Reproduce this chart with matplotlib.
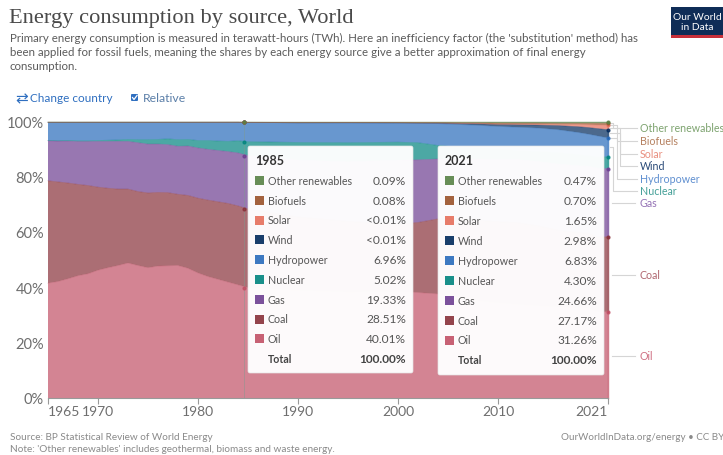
import numpy as np
import matplotlib
matplotlib.use('Agg')
import matplotlib.pyplot as plt
from matplotlib.patches import FancyBboxPatch, Rectangle

plt.rcParams['font.family'] = ['Lato', 'DejaVu Sans']

W, H = 723, 456

years = [1965, 1966, 1967, 1968, 1969, 1970, 1971, 1972, 1973, 1974, 1975, 1976, 1977, 1978, 1979, 1980,
         1981, 1982, 1983, 1984, 1985, 1990, 1995, 2000, 2002, 2004, 2006, 2008, 2010, 2012, 2014, 2016,
         2018, 2019, 2020, 2021]
oil = [41.6, 42.2, 43.2, 44.3, 45.0, 46.3, 47.2, 48.0, 48.9, 48.0, 47.2, 47.8, 47.9, 48.0, 47.0, 45.3,
       44.0, 43.0, 42.0, 41.0, 40.01, 39.0, 38.4, 38.6, 38.2, 37.7, 36.4, 35.2, 34.5, 33.9, 33.4, 33.0,
       32.8, 32.5, 31.2, 31.26]
coal = [37.1, 36.1, 34.7, 33.1, 32.0, 30.1, 28.8, 27.7, 26.8, 26.8, 27.1, 26.7, 26.5, 25.8, 26.4, 27.1,
        27.7, 28.1, 28.5, 28.6, 28.51, 26.6, 25.6, 24.4, 25.4, 27.2, 28.6, 29.2, 29.4, 29.6, 29.0, 27.8,
        27.2, 27.2, 27.1, 27.17]
gas = [14.5, 14.8, 15.2, 15.6, 16.0, 16.6, 17.0, 17.3, 17.3, 17.7, 17.7, 17.5, 17.4, 17.4, 17.9, 18.2,
       18.4, 18.6, 18.8, 19.2, 19.33, 20.6, 21.6, 23.2, 22.7, 21.7, 21.6, 22.2, 22.5, 22.9, 23.3, 24.0,
       24.2, 24.3, 25.0, 24.66]
nuclear = [0.1, 0.1, 0.2, 0.2, 0.2, 0.3, 0.4, 0.5, 0.7, 1.1, 1.6, 1.7, 2.1, 2.4, 2.4, 2.7,
           3.2, 3.4, 3.7, 4.4, 5.02, 6.4, 6.9, 6.5, 6.2, 4.9, 4.3, 4.0, 3.9, 3.2, 3.6, 4.1,
           4.0, 3.8, 4.0, 4.30]
hydro = [6.6, 6.7, 6.6, 6.7, 6.7, 6.6, 6.5, 6.4, 6.2, 6.3, 6.3, 6.2, 6.0, 6.3, 6.2, 6.6,
         6.6, 6.8, 6.9, 6.7, 6.96, 7.1, 7.2, 6.9, 7.0, 7.9, 8.2, 8.2, 8.1, 8.5, 8.5, 8.3,
         8.0, 7.8, 7.6, 6.83]
wind = [0, 0, 0, 0, 0, 0, 0, 0, 0, 0, 0, 0, 0, 0, 0, 0,
        0, 0, 0, 0, 0.005, 0.01, 0.03, 0.1, 0.15, 0.22, 0.4, 0.55, 0.7, 0.9, 1.1, 1.5,
        2.1, 2.4, 2.7, 2.98]
solar = [0, 0, 0, 0, 0, 0, 0, 0, 0, 0, 0, 0, 0, 0, 0, 0,
         0, 0, 0, 0, 0.005, 0.01, 0.01, 0.01, 0.01, 0.02, 0.03, 0.05, 0.1, 0.2, 0.3, 0.4,
         0.8, 1.0, 1.3, 1.65]
biofuels = [0.02, 0.02, 0.02, 0.02, 0.03, 0.03, 0.03, 0.03, 0.03, 0.03, 0.03, 0.03, 0.03, 0.03, 0.03, 0.04,
            0.05, 0.05, 0.06, 0.07, 0.08, 0.1, 0.1, 0.12, 0.14, 0.16, 0.22, 0.3, 0.4, 0.4, 0.4, 0.45,
            0.45, 0.55, 0.65, 0.70]
other = [0.08, 0.08, 0.08, 0.08, 0.07, 0.07, 0.07, 0.07, 0.07, 0.07, 0.07, 0.07, 0.08, 0.07, 0.07, 0.06,
         0.05, 0.05, 0.04, 0.03, 0.09, 0.18, 0.16, 0.17, 0.2, 0.2, 0.25, 0.3, 0.4, 0.4, 0.4, 0.45,
         0.45, 0.45, 0.45, 0.47]

source_names = ['Oil', 'Coal', 'Gas', 'Nuclear', 'Hydropower', 'Wind', 'Solar', 'Biofuels', 'Other renewables']
source_colors = ['#C15065', '#883039', '#6D3E91', '#00847E', '#286BBB', '#00295B', '#E56E5A', '#9A5129', '#578145']

tip_names = ['Other renewables', 'Biofuels', 'Solar', 'Wind', 'Hydropower', 'Nuclear', 'Gas', 'Coal', 'Oil']
tip_colors = source_colors[::-1]
tip_1985 = ['0.09%', '0.08%', '<0.01%', '<0.01%', '6.96%', '5.02%', '19.33%', '28.51%', '40.01%']
tip_2021 = ['0.47%', '0.70%', '1.65%', '2.98%', '6.83%', '4.30%', '24.66%', '27.17%', '31.26%']

x_ticks = [1965, 1970, 1980, 1990, 2000, 2010, 2021]
y_ticks = [0, 20, 40, 60, 80, 100]

label_names = ['Other renewables', 'Biofuels', 'Solar', 'Wind', 'Hydropower', 'Nuclear', 'Gas', 'Coal', 'Oil']
label_colors = ['#7da36f', '#b5805f', '#e98f7f', '#2a4a78', '#5f8fd0', '#45a098', '#9472b5', '#b0666f', '#cf6f82']
label_y = [129, 142, 155, 167, 180, 192, 204, 276, 357]
connector_y = [124, 126, 129, 134, 139, 148, 204, 276, 357]

fig = plt.figure(figsize=(W / 100, H / 100), dpi=100, facecolor='white')
bg = fig.add_axes([0, 0, 1, 1])
bg.set_xlim(0, W)
bg.set_ylim(H, 0)
bg.axis('off')

ax = fig.add_axes([48 / W, 1 - 399 / H, 560 / W, 276 / H])
ax.set_xlim(1965, 2021)
ax.set_ylim(0, 100)
ax.stackplot(years, oil, coal, gas, nuclear, hydro, wind, solar, biofuels, other,
             colors=source_colors, alpha=0.7, linewidth=0)
stack = np.cumsum([oil, coal, gas, nuclear, hydro, wind, solar, biofuels, other], axis=0)
for k in range(len(source_names)):
    ax.plot(years, stack[k], color=source_colors[k], lw=0.5, alpha=0.45, clip_on=False)
ax.set_xticks(x_ticks)
ax.set_yticks(y_ticks)
ax.set_xticklabels([])
ax.set_yticklabels([])
ax.tick_params(axis='x', length=4, color='#999999', width=0.8)
ax.tick_params(axis='y', length=0)
for s in ['top', 'right', 'left']:
    ax.spines[s].set_visible(False)
ax.spines['bottom'].set_color('#999999')

# hover guide and dots, the 1985 one sits a little left of its tick in the reference
hover_shift = -0.45
ax.axvline(1985 + hover_shift, color='#7f9a8f', lw=0.7, alpha=0.45)
for yr, shift in [(1985, hover_shift), (2021, 0)]:
    i = years.index(yr)
    for k in range(len(source_names)):
        ax.plot(yr + shift, stack[k, i], 'o', ms=2.0, color=source_colors[k], alpha=0.8, clip_on=False, zorder=5)

# right edge of the areas is stroked in the series colour
i = years.index(2021)
lower = 0
for k in range(len(source_names)):
    ax.plot([2021, 2021], [lower, stack[k, i]], color=source_colors[k], lw=1.0, alpha=0.75, clip_on=False)
    lower = stack[k, i]

# tick labels
gray = '#6e6e6e'
for yr in x_ticks:
    ha = {1965: 'left', 2021: 'right'}.get(yr, 'center')
    bg.text(48 + (yr - 1965) * 10, 412, str(yr), ha=ha, va='center', fontsize=10, color=gray)
for v in y_ticks:
    bg.text(44, 400 - v * 2.76, f'{v}%', ha='right', va='center', fontsize=10.5, color=gray)

# header
bg.text(9, 18, 'Energy consumption by source, World', fontsize=16.1, family=['Liberation Serif'],
        color='#4a4a4a', va='center')
sub = ["Primary energy consumption is measured in terawatt-hours (TWh). Here an inefficiency factor (the 'substitution' method) has",
       'been applied for fossil fuels, meaning the shares by each energy source give a better approximation of final energy',
       'consumption.']
for t, y in zip(sub, [38, 52, 66]):
    bg.text(10, y, t, fontsize=8.3, color='#5b5b5b', va='center')

# logo
bg.add_patch(Rectangle((671, 8), 60, 28, fc='#0f2d57', ec='none'))
bg.add_patch(Rectangle((671, 36), 60, 3, fc='#c8303a', ec='none'))
bg.text(697, 22.5, 'Our World\nin Data', color='white', fontsize=7.4, ha='center', va='center', linespacing=1.0)

# controls
bg.text(15, 98.5, '⇄', fontsize=11, color='#2f6fc0', va='center', family=['DejaVu Sans'])
bg.text(29.5, 98.5, 'Change country', fontsize=8.5, color='#2f6fc0', va='center')
bg.add_patch(FancyBboxPatch((131, 95), 7, 7, boxstyle='round,pad=0,rounding_size=1', fc='#2f6fc0', ec='none'))
bg.plot([132.5, 134, 137], [98.5, 100.5, 96.5], color='white', lw=0.9)
bg.text(143, 98.5, 'Relative', fontsize=8.8, color='#5b7fa8', va='center')

# right side labels with connectors
for i, name in enumerate(label_names):
    ly, cy = label_y[i], connector_y[i]
    if i < 6:
        mx = 613 + (i if i < 3 else 5 - i) * 3.5
        bg.plot([610, mx, mx, 637], [cy, cy, ly, ly], color='#d5d5d5', lw=0.8)
    else:
        bg.plot([612, 635], [cy, cy], color='#d5d5d5', lw=0.8)
    bg.text(640, ly, name, fontsize=7.7, color=label_colors[i], va='center')


def tooltip(x0, y0, w, h, year, values, step):
    ov = fig.add_axes([0, 0, 1, 1], facecolor='none')
    ov.set_xlim(0, W)
    ov.set_ylim(H, 0)
    ov.axis('off')
    ov.add_patch(FancyBboxPatch((x0, y0), w, h, boxstyle='round,pad=0,rounding_size=2',
                                fc='white', ec='#e4e4e4', lw=0.5, alpha=0.97))
    ov.text(x0 + 7, y0 + 14.5, year, fontsize=9, fontweight='bold', color='#333333', va='center')
    for j, name in enumerate(tip_names):
        y = y0 + 34.4 + j * step
        ov.add_patch(Rectangle((x0 + 7, y - 4.5), 9, 9, fc=tip_colors[j], ec='none', alpha=0.9))
        ov.text(x0 + 20, y, name, fontsize=7.7, color='#555555', va='center')
        ov.text(x0 + w - 7, y, values[j], fontsize=8.6, color='#555555', va='center', ha='right')
    y = y0 + 34.4 + 9 * step
    ov.text(x0 + 20, y, 'Total', fontsize=7.6, fontweight='bold', color='#444444', va='center')
    ov.text(x0 + w - 7, y, '100.00%', fontsize=8.6, fontweight='bold', color='#444444', va='center', ha='right')


tooltip(248, 147, 165, 227, '1985', tip_1985, 19.8)
tooltip(438, 147, 166, 229, '2021', tip_2021, 19.95)

# footer
bg.text(10, 437.5, 'Source: BP Statistical Review of World Energy', fontsize=7.2, color='#8a8a8a', va='center')
bg.text(10, 449.5, "Note: 'Other renewables' includes geothermal, biomass and waste energy.", fontsize=7.2, color='#8a8a8a', va='center')
bg.text(561, 438, 'OurWorldInData.org/energy • CC BY', fontsize=7.1, color='#8a8a8a', va='center')

fig.savefig('out.png', dpi=100)
